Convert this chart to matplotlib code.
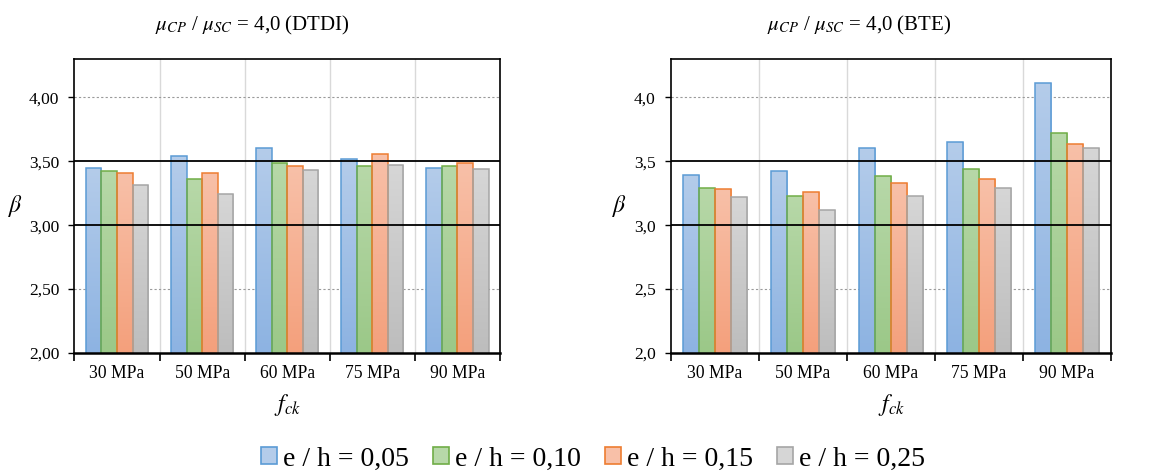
import numpy as np
import matplotlib
matplotlib.use("Agg")
import matplotlib.pyplot as plt
from matplotlib.colors import LinearSegmentedColormap
from matplotlib.patches import Patch
from matplotlib.ticker import FixedLocator, FuncFormatter

plt.rcParams['font.family'] = ['Liberation Serif', 'DejaVu Serif']
plt.rcParams['mathtext.fontset'] = 'stix'

categories = ["30 MPa", "50 MPa", "60 MPa", "75 MPa", "90 MPa"]
series_labels = ["e / h = 0,05", "e / h = 0,10", "e / h = 0,15", "e / h = 0,25"]

# Reliability index beta, DTDI
dtdi_005 = [3.45, 3.54, 3.60, 3.515, 3.45]
dtdi_010 = [3.425, 3.36, 3.49, 3.46, 3.46]
dtdi_015 = [3.405, 3.405, 3.46, 3.555, 3.485]
dtdi_025 = [3.318, 3.247, 3.435, 3.47, 3.44]

# Reliability index beta, BTE
bte_005 = [3.393, 3.425, 3.60, 3.654, 4.109]
bte_010 = [3.29, 3.227, 3.383, 3.44, 3.719]
bte_015 = [3.28, 3.258, 3.328, 3.36, 3.633]
bte_025 = [3.22, 3.117, 3.227, 3.294, 3.60]

edge_colors = ["#5B9BD5", "#70AD47", "#ED7D31", "#A5A5A5"]
top_colors = ["#B4CCEA", "#B7D8A8", "#F8C0A8", "#D6D6D6"]
bottom_colors = ["#8DB3E2", "#9BC888", "#F4A07C", "#BDBDBD"]

W, H = 1174, 475
fig = plt.figure(figsize=(W / 100, H / 100), dpi=100)


def px_axes(x0, x1, ytop, ybot):
    return fig.add_axes([x0 / W, 1 - ybot / H, (x1 - x0) / W, (ybot - ytop) / H])


def draw_panel(ax, data, decimals, title, title_x):
    n = len(categories)
    x = np.arange(n)
    ymin, ymax = 2.0, 4.3
    ax.set_xlim(-0.5, n - 0.5)
    ax.set_ylim(ymin, ymax)
    bw = 0.183
    offsets = (np.arange(len(data)) - (len(data) - 1) / 2) * bw
    for vals, off, ec, tc, bc in zip(data, offsets, edge_colors, top_colors, bottom_colors):
        bars = ax.bar(x + off, vals, width=bw, bottom=0, color='none',
                      edgecolor=ec, linewidth=1.1, zorder=4)
        cmap = LinearSegmentedColormap.from_list('g', [bc, tc])
        grad = np.linspace(0, 1, 64).reshape(-1, 1)
        for b in bars:
            bx = b.get_x()
            top = b.get_height()
            im = ax.imshow(grad, cmap=cmap, aspect='auto', origin='lower',
                           extent=[bx, bx + bw, ymin, top], zorder=3,
                           interpolation='bilinear')
            im.set_clip_path(b)
    ax.set_xlim(-0.5, n - 0.5)
    ax.set_ylim(ymin, ymax)

    # category separators and ticks
    bounds = np.arange(-0.5, n, 1.0)
    ax.xaxis.set_major_locator(FixedLocator(bounds))
    ax.xaxis.set_major_formatter(FuncFormatter(lambda v, p: ""))
    ax.xaxis.set_minor_locator(FixedLocator(x))
    ax.set_xticklabels(categories, minor=True)
    ax.tick_params(axis='x', which='major', direction='out', length=6, width=1.2, color='black')
    ax.tick_params(axis='x', which='minor', length=0, labelsize=12.7, pad=9)
    for b in bounds[1:-1]:
        ax.axvline(b, color='#D9D9D9', lw=1.0, zorder=1)

    yt = [2.0, 2.5, 3.0, 3.5, 4.0]
    ax.set_yticks(yt)
    ax.yaxis.set_major_formatter(FuncFormatter(
        lambda v, p: f"{v:.{decimals}f}".replace('.', ',')))
    ax.tick_params(axis='y', direction='out', length=4, width=1.0, labelsize=12.5, pad=7)
    for v in (2.5, 4.0):
        ax.axhline(v, color='#9A9A9A', lw=0.8, ls=(0, (2, 2)), zorder=1)
    for v in (3.0, 3.5):
        ax.axhline(v, color='black', lw=1.3, zorder=5)

    for s in ax.spines.values():
        s.set_color('black')
        s.set_linewidth(1.2)
    ax.spines['bottom'].set_linewidth(1.8)
    ax.spines['bottom'].set_zorder(6)

    fig.text(title_x / W, 1 - 25 / H, title, ha='center', va='center', fontsize=15)


ax1 = px_axes(74.5, 500, 59, 353)
draw_panel(ax1, [dtdi_005, dtdi_010, dtdi_015, dtdi_025], 2,
           r"$\mu_{CP}$ / $\mu_{SC}$ = 4,0 (DTDI)", 252)
fig.text(16 / W, 1 - 206 / H, r"$\beta$", ha='center', va='center', fontsize=17)
fig.text(287 / W, 1 - 405 / H, r"$f_{ck}$", ha='center', va='center', fontsize=17)

ax2 = px_axes(671, 1111, 59, 353)
draw_panel(ax2, [bte_005, bte_010, bte_015, bte_025], 1,
           r"$\mu_{CP}$ / $\mu_{SC}$ = 4,0 (BTE)", 859)
fig.text(620 / W, 1 - 206 / H, r"$\beta$", ha='center', va='center', fontsize=17)
fig.text(891 / W, 1 - 405 / H, r"$f_{ck}$", ha='center', va='center', fontsize=17)

handles = [Patch(facecolor=t, edgecolor=e, linewidth=1.2)
           for t, e in zip(top_colors, edge_colors)]
fig.legend(handles, series_labels, loc='center', bbox_to_anchor=(593 / W, 1 - 459 / H),
           ncol=4, frameon=False, fontsize=20, handlelength=0.58, handleheight=0.58,
           handletextpad=0.22, columnspacing=0.85, borderpad=0.1)

fig.savefig("out.png", dpi=100)
